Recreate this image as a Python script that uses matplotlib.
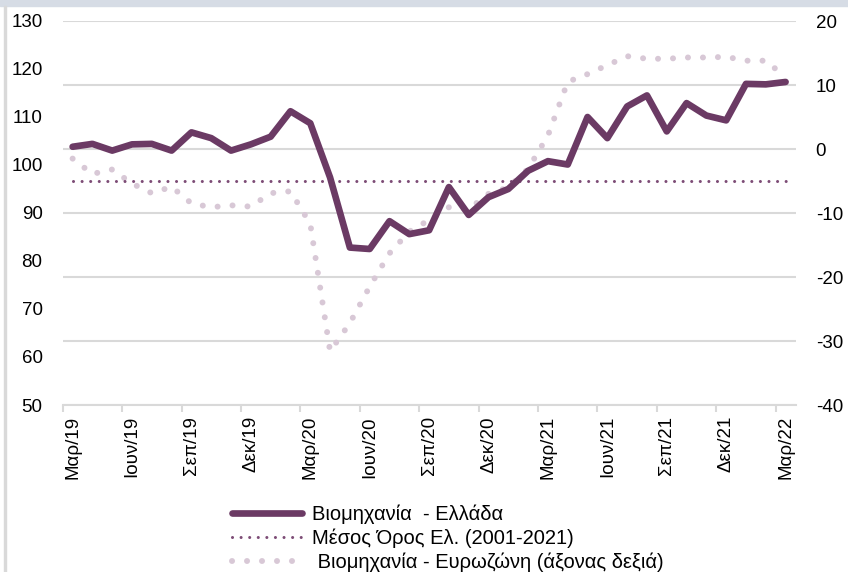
import matplotlib
matplotlib.use("Agg")
import matplotlib.pyplot as plt
from matplotlib.lines import Line2D
from matplotlib.patches import Rectangle
import numpy as np

months = ["Μαρ/19", "Απρ/19", "Μαϊ/19", "Ιουν/19", "Ιουλ/19", "Αυγ/19", "Σεπ/19", "Οκτ/19", "Νοε/19",
          "Δεκ/19", "Ιαν/20", "Φεβ/20", "Μαρ/20", "Απρ/20", "Μαϊ/20", "Ιουν/20", "Ιουλ/20", "Αυγ/20",
          "Σεπ/20", "Οκτ/20", "Νοε/20", "Δεκ/20", "Ιαν/21", "Φεβ/21", "Μαρ/21", "Απρ/21", "Μαϊ/21",
          "Ιουν/21", "Ιουλ/21", "Αυγ/21", "Σεπ/21", "Οκτ/21", "Νοε/21", "Δεκ/21", "Ιαν/22", "Φεβ/22",
          "Μαρ/22"]
greece = [103.8, 104.4, 103.0, 104.3, 104.4, 103.0, 106.8, 105.6, 103.0, 104.3, 105.9, 111.2,
          108.7, 97.4, 82.8, 82.5, 88.3, 85.6, 86.4, 95.4, 89.6, 93.3, 95.0, 98.8, 100.8, 100.1,
          110.0, 105.6, 112.2, 114.5, 107.0, 112.9, 110.3, 109.3, 116.9, 116.8, 117.3]
euro = [-1.5, -3.9, -3.2, -5.4, -6.9, -5.9, -8.5, -9.1, -8.8, -9.0, -6.9, -6.6, -11.7, -31.6,
        -27.2, -21.5, -16.3, -12.9, -11.1, -9.1, -9.4, -7.0, -6.0, -3.1, 2.1, 10.5, 11.7, 13.1,
        14.5, 14.1, 14.1, 14.3, 14.3, 14.4, 13.8, 13.8, 11.2]
greece_mean = 96.7

label_greece = "Βιομηχανία  - Ελλάδα"
label_mean = "Μέσος Όρος Ελ. (2001-2021)"
label_euro = " Βιομηχανία - Ευρωζώνη (άξονας δεξιά)"

c_main = "#6B3A64"
c_mean = "#7D4C76"
c_euro = "#D8C8D6"
c_grid = "#D9D9D9"

plt.rcParams['font.family'] = ['Liberation Sans', 'DejaVu Sans']
plt.rcParams['axes.unicode_minus'] = False

fig = plt.figure(figsize=(8.48, 5.72), dpi=100)
fig.patches.append(Rectangle((0, 1 - 6/572), 1, 6/572, transform=fig.transFigure,
                             color="#D6DCE5", zorder=0))
fig.patches.append(Rectangle((4/848, 0), 2/848, 1 - 6/572, transform=fig.transFigure,
                             color="#D9D9D9", zorder=0))

ax2 = fig.add_axes([62.7/848, 1 - 405/572, (795.5 - 62.7)/848, (405 - 21)/572])
ax = ax2.twinx()  # left-value axis drawn on top
ax.yaxis.set_label_position('left')
ax.yaxis.tick_left()
ax2.yaxis.tick_right()

x = np.arange(len(months))
ax.set_xlim(-0.5, len(months) - 0.5)
ax2.set_xlim(-0.5, len(months) - 0.5)
ax.set_ylim(50, 130)
ax.set_yticks(np.arange(50, 131, 10))
ax2.set_ylim(-40, 20)
ax2.set_yticks(np.arange(-40, 21, 10))

for a in (ax, ax2):
    for s in a.spines.values():
        s.set_visible(False)
ax2.spines['bottom'].set_visible(True)
ax2.spines['bottom'].set_color(c_grid)
ax2.spines['bottom'].set_linewidth(1.5)

ax2.yaxis.grid(True, color=c_grid, linewidth=1.5)
ax2.set_axisbelow(True)

ax.tick_params(axis='y', length=0, pad=14.5, labelsize=13.5, labelcolor="black")
ax2.tick_params(axis='y', length=0, pad=14.5, labelsize=13.5, labelcolor="black")

ax2.set_xticks(x[::3])
ax2.set_xticklabels(months[::3], rotation=90, fontsize=13.5)
ax2.set_xticks(np.arange(-0.5, len(months), 3), minor=True)
ax2.tick_params(axis='x', which='major', length=0, pad=8)
ax2.tick_params(axis='x', which='minor', length=5, width=1.5, color=c_grid)
ax.tick_params(axis='x', which='both', length=0, labelbottom=False)

dot_euro = (0, (0.01, 2.5))
dot_mean = (0, (0.01, 2.8))

ax2.plot(x, euro, color=c_euro, linewidth=4.3, linestyle=dot_euro,
         dash_capstyle='round', zorder=2)
ax.plot(x, [greece_mean] * len(x), color=c_mean, linewidth=2.2, linestyle=dot_mean,
        dash_capstyle='round', zorder=3)
ax.plot(x, greece, color=c_main, linewidth=4.8, solid_joinstyle='round',
        solid_capstyle='round', zorder=4)

handles = [
    Line2D([], [], color=c_main, linewidth=4.8, solid_capstyle='round'),
    Line2D([], [], color=c_mean, linewidth=2.2, linestyle=dot_mean, dash_capstyle='round'),
    Line2D([], [], color=c_euro, linewidth=4.3, linestyle=dot_euro, dash_capstyle='round'),
]
fig.legend(handles, [label_greece, label_mean, label_euro], loc='upper left',
           bbox_to_anchor=(232/848, 1 - 505/572), frameon=False, borderpad=0,
           borderaxespad=0, handlelength=3.5, handletextpad=0.45, labelspacing=0.22,
           prop={'size': 14.5})

fig.savefig("out.png", dpi=100)
